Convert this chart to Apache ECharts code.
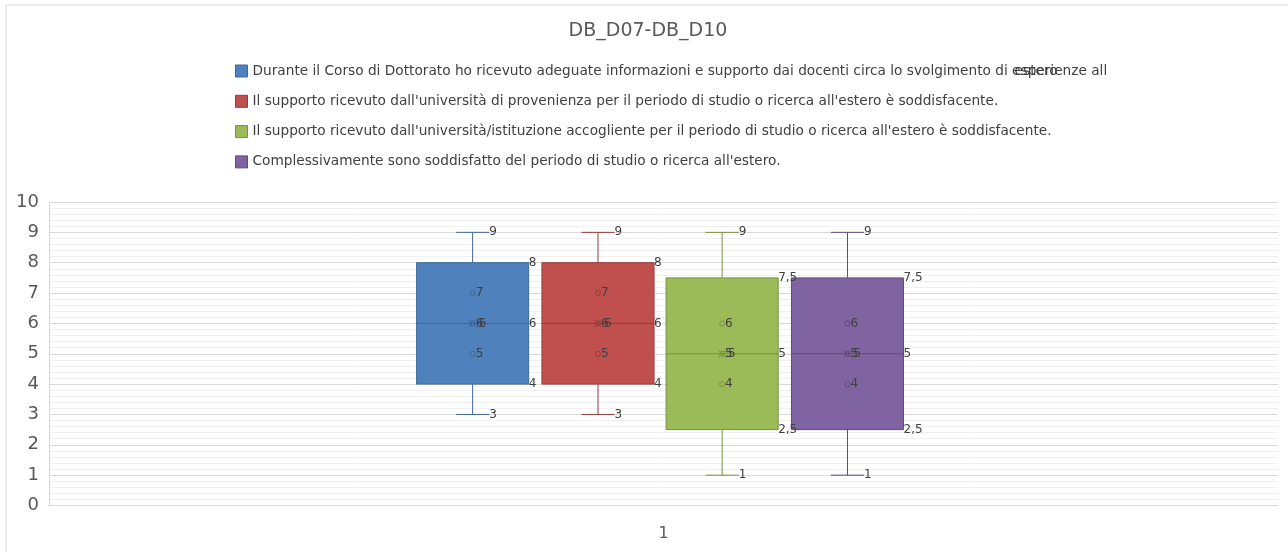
<!DOCTYPE html>
<html>
<head>
<meta charset="utf-8">
<script src="https://cdn.jsdelivr.net/npm/echarts@6/dist/echarts.min.js"></script>
<style>html,body{margin:0;padding:0;background:#fff}#c{width:1288px;height:552px}</style>
</head>
<body>
<div id="c"></div>
<script>
const titleText = 'DB_D07-DB_D10';
const categories = ['1'];
const seriesNames = [
  "Durante il Corso di Dottorato ho ricevuto adeguate informazioni e supporto dai docenti circa lo svolgimento di esperienze all",
  "Il supporto ricevuto dall'università di provenienza per il periodo di studio o ricerca all'estero è soddisfacente.",
  "Il supporto ricevuto dall'università/istituzione accogliente per il periodo di studio o ricerca all'estero è soddisfacente.",
  "Complessivamente sono soddisfatto del periodo di studio o ricerca all'estero."
];
const overflowWord = 'estero';
const minVals = [3, 3, 1, 1];
const q1Vals = [4, 4, 2.5, 2.5];
const medianVals = [6, 6, 5, 5];
const q3Vals = [8, 8, 7.5, 7.5];
const maxVals = [9, 9, 9, 9];
const meanVals = [6, 6, 5, 5];
const innerPoints = [[5, 6, 7], [5, 6, 7], [4, 5, 6], [4, 5, 6]];
const yTicks = [0, 10, 1];

const fillColors = ['#4f81bd', '#c0504d', '#9bbb59', '#8064a2'];
const lineColors = ['#3d6896', '#943c3a', '#76923c', '#5f4a7a'];
const offsets = [-0.1553, -0.0533, 0.0477, 0.1497];
const boxFrac = 0.0912;
const capFrac = 0.027;
const FONT = 'DejaVu Sans, sans-serif';
const LEG_FS = 13.7;
const fmt = v => String(v).replace('.', ',');

// position of the overlapping wrapped word (Excel artefact)
const mctx = document.createElement('canvas').getContext('2d');
mctx.font = LEG_FS + 'px ' + FONT;
const fullName = seriesNames[0];
const prefix = fullName.slice(0, fullName.lastIndexOf('esperienze'));
const legendLeft = 230, legendTextStart = legendLeft + 5 + 12 + 5;
const esteroX = legendTextStart + mctx.measureText(prefix).width + 3;

function makeRender(i) {
  return function (params, api) {
    const band = api.size([1, 0])[0];
    const vmin = api.value(1), vq1 = api.value(2), vmed = api.value(3), vq3 = api.value(4), vmax = api.value(5), vmean = api.value(6);
    const cx = api.coord([api.value(0), vmed])[0] + offsets[i] * band;
    const half = boxFrac * band / 2;
    const cap = capFrac * band / 2;
    const Y = v => api.coord([api.value(0), v])[1];
    const lc = lineColors[i];
    const lbl = (t, x, y) => ({ type: 'text', z2: 20, style: { text: t, x: x, y: y, fill: '#404040', fontSize: 12, fontFamily: FONT, align: 'left', verticalAlign: 'middle' } });
    const children = [];
    children.push({ type: 'line', shape: { x1: cx, y1: Y(vmax), x2: cx, y2: Y(vq3) }, style: { stroke: lc, lineWidth: 1 } });
    children.push({ type: 'line', shape: { x1: cx, y1: Y(vq1), x2: cx, y2: Y(vmin) }, style: { stroke: lc, lineWidth: 1 } });
    children.push({ type: 'line', shape: { x1: cx - cap, y1: Y(vmax), x2: cx + cap, y2: Y(vmax) }, style: { stroke: lc, lineWidth: 1 } });
    children.push({ type: 'line', shape: { x1: cx - cap, y1: Y(vmin), x2: cx + cap, y2: Y(vmin) }, style: { stroke: lc, lineWidth: 1 } });
    children.push({ type: 'rect', shape: { x: cx - half, y: Y(vq3), width: 2 * half, height: Y(vq1) - Y(vq3) }, style: { fill: fillColors[i], stroke: lc, lineWidth: 1 } });
    children.push({ type: 'line', z2: 5, shape: { x1: cx - half, y1: Y(vmed), x2: cx + half, y2: Y(vmed) }, style: { stroke: lc, lineWidth: 1 } });
    innerPoints[i].forEach(p => {
      children.push({ type: 'circle', z2: 6, shape: { cx: cx, cy: Y(p), r: 2.5 }, style: { fill: 'none', stroke: lc, lineWidth: 1 } });
      children.push(lbl(fmt(p), cx + 3, Y(p)));
    });
    const ym = Y(vmean);
    children.push({ type: 'line', z2: 6, shape: { x1: cx - 4, y1: ym - 4, x2: cx + 4, y2: ym + 4 }, style: { stroke: lc, lineWidth: 1 } });
    children.push({ type: 'line', z2: 6, shape: { x1: cx - 4, y1: ym + 4, x2: cx + 4, y2: ym - 4 }, style: { stroke: lc, lineWidth: 1 } });
    children.push(lbl(fmt(vmean), cx + 6, ym));
    children.push(lbl(fmt(vmax), cx + cap, Y(vmax)));
    children.push(lbl(fmt(vmin), cx + cap, Y(vmin)));
    children.push(lbl(fmt(vq3), cx + half, Y(vq3)));
    children.push(lbl(fmt(vmed), cx + half, Y(vmed)));
    children.push(lbl(fmt(vq1), cx + half, Y(vq1)));
    return { type: 'group', children: children };
  };
}

const series = seriesNames.map((name, i) => ({
  name: name,
  type: 'custom',
  renderItem: makeRender(i),
  itemStyle: { color: fillColors[i], borderColor: lineColors[i] },
  encode: { x: 0, y: [1, 2, 3, 4, 5] },
  data: [[0, minVals[i], q1Vals[i], medianVals[i], q3Vals[i], maxVals[i], meanVals[i]]]
}));

const chart = echarts.init(document.getElementById('c'));
chart.setOption({
  backgroundColor: '#fff',
  animation: false,
  title: { text: titleText, left: 643, textAlign: 'center', top: 17, textStyle: { fontSize: 19, fontWeight: 'normal', color: '#595959', fontFamily: FONT } },
  legend: {
    orient: 'vertical', left: legendLeft, top: 59, itemWidth: 12, itemHeight: 12, itemGap: 16.3,
    icon: 'rect', selectedMode: false,
    itemStyle: { borderWidth: 1 },
    textStyle: { fontSize: LEG_FS, color: '#404040', fontFamily: FONT, lineHeight: 13 },
    data: seriesNames
  },
  graphic: [
    { type: 'rect', silent: true, shape: { x: 6, y: 5, width: 1400, height: 700 }, style: { fill: 'none', stroke: '#d9d9d9', lineWidth: 1 } },
    { type: 'text', silent: true, x: esteroX, y: 71, style: { text: overflowWord, fontSize: LEG_FS, fill: '#404040', fontFamily: FONT, verticalAlign: 'middle' } }
  ],
  grid: { left: 49, right: 10, top: 202, bottom: 46.5 },
  xAxis: {
    type: 'category', data: categories,
    axisLine: { show: true, lineStyle: { color: '#d9d9d9' } },
    axisTick: { show: false },
    axisLabel: { fontSize: 16, color: '#595959', margin: 20, fontFamily: FONT }
  },
  yAxis: {
    type: 'value', min: yTicks[0], max: yTicks[1], interval: yTicks[2],
    axisLine: { show: true, lineStyle: { color: '#d9d9d9' } },
    axisTick: { show: false },
    axisLabel: { fontSize: 18, color: '#595959', margin: 10, fontFamily: FONT },
    splitLine: { lineStyle: { color: '#d9d9d9' } },
    minorTick: { show: false, splitNumber: 5 },
    minorSplitLine: { show: true, lineStyle: { color: '#f0f0f0' } }
  },
  series: series
});
</script>
</body>
</html>
